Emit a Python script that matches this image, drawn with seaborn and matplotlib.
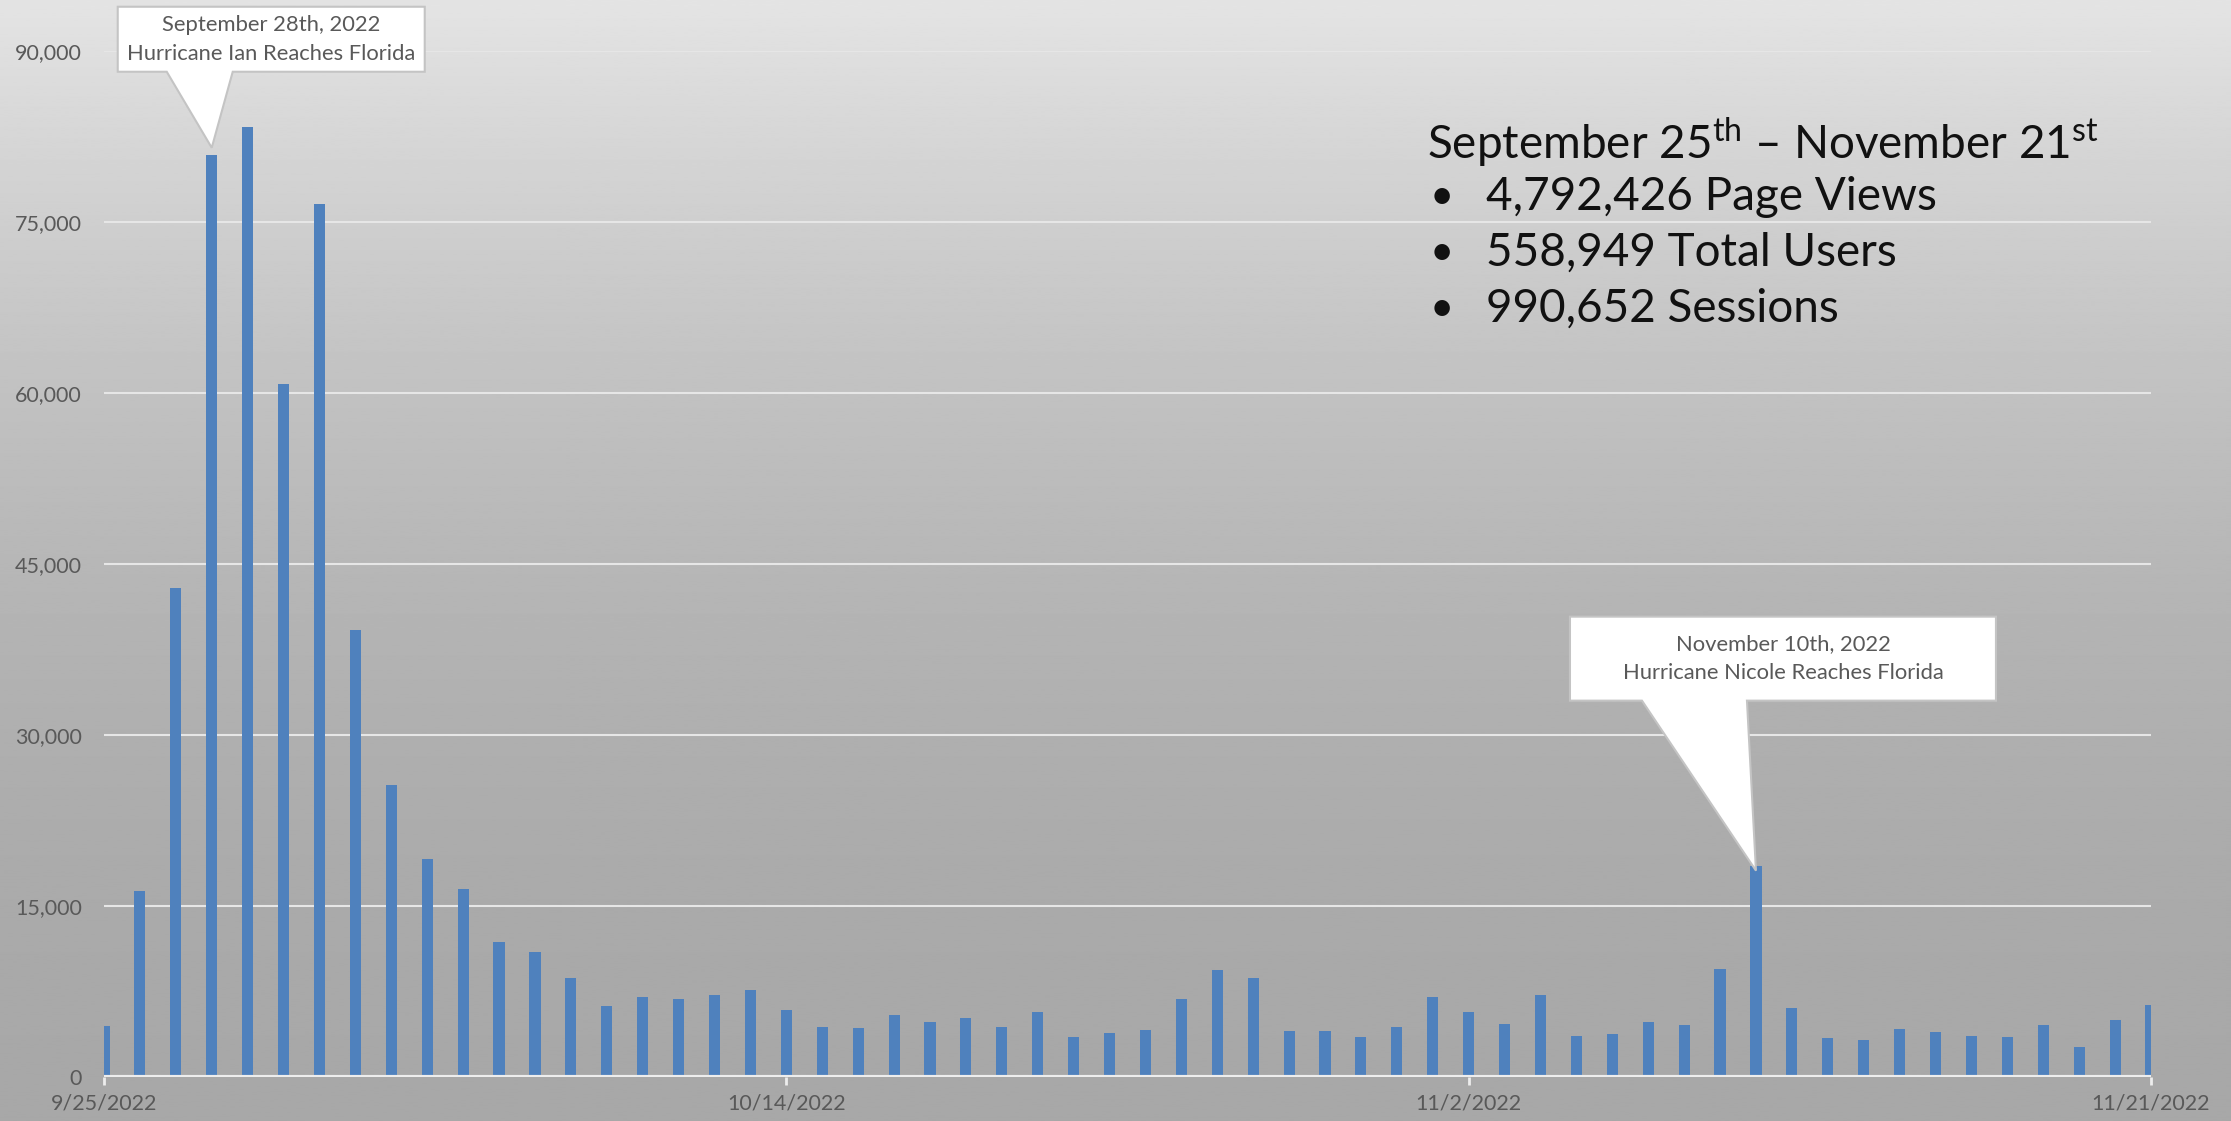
import numpy as np
import pandas as pd
import matplotlib
matplotlib.use("Agg")
import matplotlib.pyplot as plt
import seaborn as sns
from matplotlib.patches import Polygon
from matplotlib.transforms import IdentityTransform

# daily page views, 9/25/2022 - 11/21/2022
dates = pd.date_range("2022-09-25", "2022-11-21", freq="D")
day_labels = [f"{d.month}/{d.day}/{d.year}" for d in dates]
page_views = [
    4500, 16350, 42900, 80900, 83300, 60800, 76550, 39200, 25650, 19150,
    16500, 11850, 10950, 8680, 6200, 7030, 6820, 7200, 7650, 5880,
    4380, 4300, 5440, 4820, 5180, 4350, 5710, 3500, 3850, 4120,
    6850, 9380, 8650, 4000, 4030, 3470, 4410, 7060, 5740, 4650,
    7220, 3620, 3740, 4840, 4550, 9450, 18540, 6090, 3450, 3240,
    4240, 3920, 3630, 3550, 4600, 2670, 4980, 6300,
]
tick_days = ["9/25/2022", "10/14/2022", "11/2/2022", "11/21/2022"]
y_ticks = [0, 15000, 30000, 45000, 60000, 75000, 90000]

summary_title = r"September 25$^{\mathrm{th}}$ – November 21$^{\mathrm{st}}$"
summary_lines = ["4,792,426 Page Views", "558,949 Total Users", "990,652 Sessions"]

event_days = ["9/28/2022", "11/10/2022"]
event_texts = ["September 28th, 2022\nHurricane Ian Reaches Florida",
               "November 10th, 2022\nHurricane Nicole Reaches Florida"]

plt.rcParams["font.family"] = ["Lato", "DejaVu Sans"]
plt.rcParams["mathtext.fontset"] = "custom"
plt.rcParams["mathtext.rm"] = "Lato"

W, H = 2231, 1121
fig = plt.figure(figsize=(W / 100, H / 100), dpi=100)

# grey gradient background
bg = fig.add_axes([0, 0, 1, 1], zorder=0)
t = np.linspace(0, 1, 800)[:, None]
shade = (168 + 60 * (1 - t) ** 2) / 255
bg.imshow(np.repeat(shade, 2, axis=1), cmap="gray", vmin=0, vmax=1,
          aspect="auto", extent=[0, 1, 0, 1])
bg.axis("off")

left, right, top, zero = 104, 2151, 51, 1077
ax = fig.add_axes([left / W, (H - zero) / H, (right - left) / W, (zero - top) / H], zorder=1)
ax.patch.set_alpha(0)

sns.barplot(x=day_labels, y=page_views, color="#4f81bd", saturation=1,
            width=0.31, errorbar=None, ax=ax, zorder=3)

ax.set_xlim(0, len(day_labels) - 1)
ax.set_ylim(0, 90000)
ax.set_yticks(y_ticks)
ax.set_yticklabels([f"{v:,}" for v in y_ticks])
ax.set_xticks([day_labels.index(d) for d in tick_days])
ax.set_xticklabels(tick_days)
ax.yaxis.grid(True, color="#e6e6e6", lw=1.5)
ax.set_axisbelow(True)
ax.axhline(0, color="#ededed", lw=3, zorder=4)
for s in ax.spines.values():
    s.set_visible(False)
ax.tick_params(axis="y", length=0, pad=16, labelsize=15.5, labelcolor="#595959")
ax.tick_params(axis="x", length=6, width=2, color="#ededed", pad=6,
               labelsize=15.5, labelcolor="#595959")
ax.set_xlabel("")
ax.set_ylabel("")

# callouts (box offsets in pixels relative to the pointer tip)
shapes = [
    dict(tip=7, L=-94, R=213, B=76, T=141, b1=-45, b2=21),
    dict(tip=-5, L=-186, R=240, B=170, T=254, b1=-114, b2=-9),
]
for day, txt, sh in zip(event_days, event_texts, shapes):
    i = day_labels.index(day)
    tx, ty = ax.transData.transform((i, page_views[i]))
    ty += sh["tip"]
    L, R = tx + sh["L"], tx + sh["R"]
    yb, yt = ty + sh["B"], ty + sh["T"]
    verts = [(L, yt), (R, yt), (R, yb), (tx + sh["b2"], yb), (tx, ty),
             (tx + sh["b1"], yb), (L, yb)]
    fig.add_artist(Polygon(verts, closed=True, facecolor="white", edgecolor="#c4c4c4",
                           lw=1.5, transform=IdentityTransform(), zorder=5))
    fig.text((L + R) / 2 / W, (yb + yt) / 2 / H, txt, ha="center", va="center",
             fontsize=15.8, color="#595959", linespacing=1.55, zorder=6)

# summary block
fig.text(1427 / W, 1 - 142 / H, summary_title, fontsize=33, color="#111111",
         va="center", ha="left")
for k, line in enumerate(summary_lines):
    y = 1 - (197 + 56 * k) / H
    fig.text(1430 / W, y, "•", fontsize=30, color="#111111", va="center")
    fig.text(1486 / W, y, line, fontsize=33, color="#111111", va="center")

fig.savefig("out.png", dpi=100)
